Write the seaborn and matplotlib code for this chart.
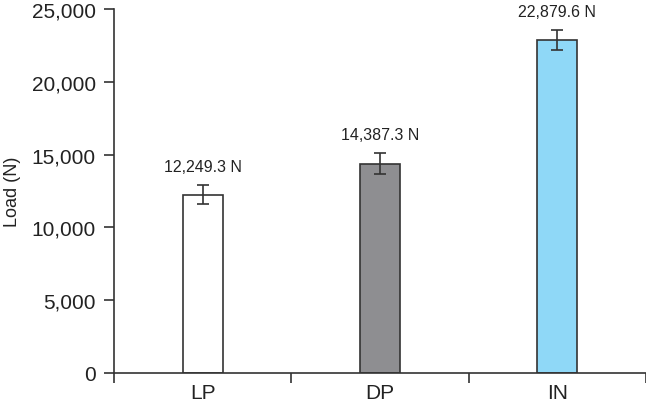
import numpy as np
import pandas as pd
import seaborn as sns
import matplotlib.pyplot as plt
from matplotlib.ticker import FuncFormatter

# Data
groups = ['LP', 'DP', 'IN']
loads = [12249.3, 14387.3, 22879.6]
errors = [650, 750, 700]
labels = ['12,249.3 N', '14,387.3 N', '22,879.6 N']
colors = ['#ffffff', '#8e8e91', '#8fd8f7']

df = pd.DataFrame({'Group': groups, 'Load': loads})

sns.set_style('white')
plt.rcParams['font.family'] = ['Liberation Sans', 'DejaVu Sans']

fig = plt.figure(figsize=(6.46, 4.06), dpi=100)
ax = fig.add_axes([0.1765, 0.079, 0.8235, 0.896])

sns.barplot(x='Group', y='Load', data=df, hue='Group', palette=colors,
            errorbar=None, width=0.226, edgecolor='#333333', linewidth=1.2,
            saturation=1, legend=False, ax=ax)

# Error bars and value labels
pos = np.arange(len(groups))
ax.errorbar(pos, loads, yerr=errors, fmt='none', ecolor='#333333',
            elinewidth=1.2, capsize=4.3, capthick=1.2)
for x, v, e, t in zip(pos, loads, errors, labels):
    ax.annotate(t, (x, v + e), xytext=(0, 8), textcoords='offset points',
                ha='center', va='bottom', fontsize=11.5, color='#222222')

ax.set_xlim(-0.5, 2.5)
ax.set_ylim(0, 25000)
ax.set_yticks(range(0, 25001, 5000))
ax.yaxis.set_major_formatter(FuncFormatter(lambda v, p: f'{int(v):,}'))

# category boundaries as ticks, labels at centers
ax.set_xticks([-0.5, 0.5, 1.5, 2.5])
ax.set_xticklabels([])
ax.set_xticks(pos, minor=True)
ax.set_xticklabels(groups, minor=True)
ax.tick_params(axis='x', which='major', direction='out', length=7, width=1.2,
               color='#333333', bottom=True)
ax.tick_params(axis='x', which='minor', length=0, pad=7, labelsize=15,
               labelcolor='#222222')
ax.tick_params(axis='y', direction='out', length=7, width=1.2, color='#333333',
               left=True, pad=6, labelsize=15, labelcolor='#222222')

ax.set_xlabel('')
ax.set_ylabel('Load (N)', fontsize=13, color='#222222', labelpad=8)

for s in ['top', 'right']:
    ax.spines[s].set_visible(False)
for s in ['left', 'bottom']:
    ax.spines[s].set_color('#333333')
    ax.spines[s].set_linewidth(1.2)

fig.savefig('out.png', dpi=100)
